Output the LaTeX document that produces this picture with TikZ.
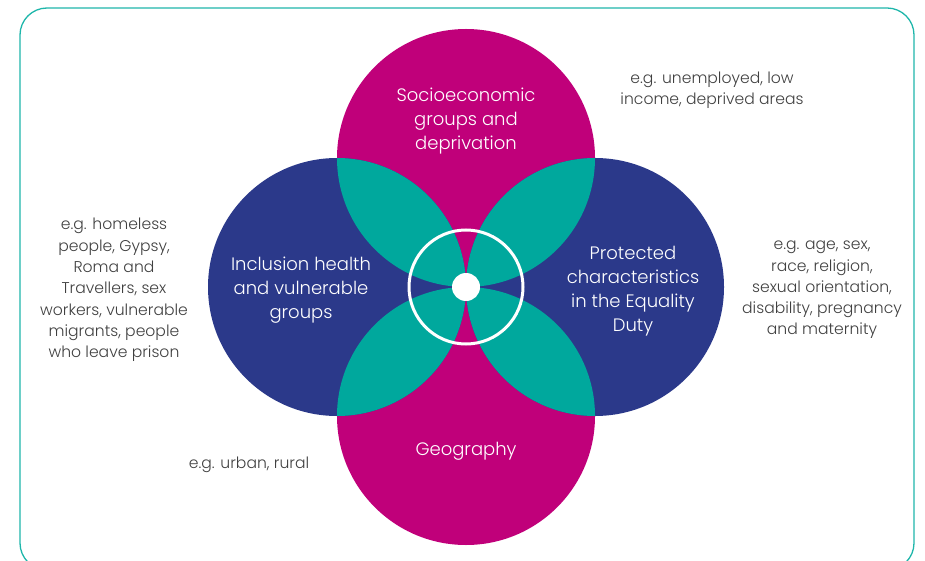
\documentclass[tikz,border=0pt]{standalone}
\usepackage{fontspec}
\setmainfont{Poppins}[UprightFont={* Light}]
\definecolor{mag}{RGB}{192,0,122}
\definecolor{navy}{RGB}{43,57,138}
\definecolor{tealc}{RGB}{0,168,157}
\definecolor{frame}{RGB}{30,182,170}
\definecolor{txt}{RGB}{64,64,64}
\begin{document}
\begin{tikzpicture}[x=1pt,y=-1pt,
  lbl/.style={align=center,text=white,font=\fontsize{18}{24}\selectfont,inner sep=0pt},
  note/.style={align=center,text=txt,font=\fontsize{15.6}{21.3}\selectfont,inner sep=0pt}]
\useasboundingbox (0,0) rectangle (925,561);
\begin{scope}
\clip (0,0) rectangle (925,561);
\draw[frame,line width=1.3pt,rounded corners=27pt] (20,8) rectangle (914,570);
\end{scope}
% circles
\fill[mag] (466,158) circle (129);
\fill[mag] (466,416) circle (129);
\fill[navy] (337,287) circle (129);
\fill[navy] (595,287) circle (129);
\begin{scope}
\clip (466,158) circle (129);
\fill[tealc] (337,287) circle (129);
\fill[tealc] (595,287) circle (129);
\end{scope}
\begin{scope}
\clip (466,416) circle (129);
\fill[tealc] (337,287) circle (129);
\fill[tealc] (595,287) circle (129);
\end{scope}
\node[circle,draw=white,line width=3pt,minimum size=114pt,inner sep=0pt] (ring) at (466,287) {};
\node[circle,fill=white,minimum size=28pt,inner sep=0pt] (dot) at (466,287) {};
% labels
\node[lbl] (top) at (466,121) {Socioeconomic\\groups and\\deprivation};
\node[lbl] (left) at (301,290) {Inclusion health\\and vulnerable\\groups};
\node[lbl] (right) at (633,291) {Protected\\characteristics\\in the Equality\\Duty};
\node[lbl] (bottom) at (466,451) {Geography};
% notes
\node[note] (ntop) at (712,90) {e.g. unemployed, low\\income, deprived areas};
\node[note] (nleft) at (114,290) {e.g. homeless\\people, Gypsy,\\Roma and\\Travellers, sex\\workers, vulnerable\\migrants, people\\who leave prison};
\node[note] (nright) at (822,290) {e.g. age, sex,\\race, religion,\\sexual orientation,\\disability, pregnancy\\and maternity};
\node[note] (nbot) at (249,465) {e.g. urban, rural};
\end{tikzpicture}
\end{document}
